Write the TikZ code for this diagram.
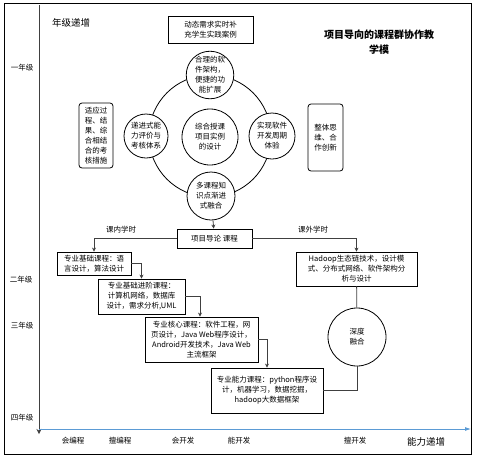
\documentclass[tikz,border=0pt]{standalone}
\usepackage{fontspec}
\setmainfont{Noto Sans CJK SC}
\usepackage{xcolor}
\usetikzlibrary{arrows.meta,positioning,calc}
\definecolor{AxBlue}{RGB}{91,155,213}
\definecolor{LinkGray}{RGB}{64,64,64}
\tikzset{
  txt/.style={font=\fontsize{7.5}{10}\selectfont,align=center,inner sep=1pt},
  cbox/.style={txt,draw=black,line width=0.8pt,fill=white},
  rbox/.style={cbox,rounded corners=3pt},
  bub/.style={txt,circle,draw=black,line width=0.8pt,fill=white,inner sep=0pt},
  link/.style={-{Stealth[length=4pt,width=4pt]},line width=0.8pt,LinkGray},
  plain/.style={line width=0.8pt,LinkGray},
  grade/.style={font=\fontsize{7.5}{9}\selectfont,inner sep=0pt},
  skill/.style={font=\fontsize{7.5}{9}\selectfont,inner sep=0pt},
}

\begin{document}
\begin{tikzpicture}[x=1pt,y=-1pt,>=Stealth]
  \useasboundingbox (0,0) rectangle (478,458);
  \draw[line width=0.8pt] (4,3) rectangle (471,454);

  % axes
  \coordinate (ytop) at (39,5);
  \coordinate (ybot) at (39,434);
  \coordinate (xl) at (39,429);
  \coordinate (xr) at (471,429);
  \draw[-{Stealth[length=5pt,width=5pt]},line width=0.8pt,black!75] (ytop) -- (ybot);
  \draw[-{Latex[length=6pt,width=4pt]},line width=0.8pt,AxBlue] (xl) -- (xr);
  \node[font=\fontsize{9.5}{11}\selectfont] (yname) at (71,23) {年级递增};
  \node[font=\fontsize{9.5}{11}\selectfont] (xname) at (426,442) {能力递增};

  % grades and skills
  \node[grade] (g1) at (22,68) {一年级};
  \node[grade] (g2) at (21,280) {二年级};
  \node[grade] (g3) at (22,326) {三年级};
  \node[grade] (g4) at (22,418) {四年级};
  \node[skill] (s1) at (73,441) {会编程};
  \node[skill] (s2) at (120,441) {擅编程};
  \node[skill] (s3) at (183,441) {会开发};
  \node[skill] (s4) at (239,441) {能开发};
  \node[skill] (s5) at (355,441) {擅开发};

  % title and top box
  \node[font=\fontsize{10}{15}\selectfont\bfseries,align=center] (title) at (379,42)
    {项目导向的课程群协作教\\学模};
  \node[cbox,minimum width=85pt,minimum height=27pt] (need) at (210.5,29.5)
    {动态需求实时补\\充学生实践案例};

  % ring of goals
  \draw[line width=0.8pt] (210,136) circle (61);
  \node[bub,minimum size=46pt] (ctop) at (210,75) {合理的软\\件架构，\\便捷的功\\能扩展};
  \node[bub,minimum size=44pt] (cleft) at (146,136) {递进式能\\力评价与\\考核体系};
  \node[bub,minimum size=46pt] (cright) at (272,136) {实现软件\\开发周期\\体验};
  \node[bub,minimum size=56pt] (cmid) at (210,137) {综合授课\\项目实例\\的设计};
  \node[bub,minimum size=48pt] (cbot) at (211,196) {多课程知\\识点渐进\\式融合};
  \node[rbox,minimum width=34pt,minimum height=65pt] (eval) at (96,135.5)
    {适应过\\程、结\\果、综\\合相结\\合的考\\核措施};
  \node[rbox,minimum width=35pt,minimum height=67pt] (team) at (325.5,137.5)
    {整体思\\维、合\\作创新};

  % course chain
  \node[cbox,minimum width=75pt,minimum height=19pt] (intro) at (214.5,238.5) {项目导论 课程};
  \node[cbox,minimum width=74pt,minimum height=23pt] (b1) at (94,263.5)
    {专业基础课程：语\\言设计，算法设计};
  \node[cbox,minimum width=87pt,minimum height=35pt] (b2) at (141.5,296.5)
    {专业基础进阶课程：\\计算机网络，数据库\\设计，需求分析,UML};
  \node[cbox,minimum width=113pt,minimum height=45pt] (b3) at (201.5,339.5)
    {专业核心课程：软件工程，网\\页设计，Java Web程序设计，\\Android开发技术，Java Web\\主流框架};
  \node[cbox,minimum width=112pt,minimum height=45pt] (b4) at (267,390.5)
    {专业能力课程：python程序设\\计，机器学习，数据挖掘，\\hadoop大数据框架};
  \node[cbox,minimum width=121pt,minimum height=34pt] (hdp) at (356.5,269)
    {Hadoop生态链技术，设计模\\式、分布式网络、软件架构分\\析与设计};
  \node[bub,minimum size=58pt] (deep) at (357,337) {深度\\融合};

  \draw[link] (cbot) -- (intro);
  \draw[link] (intro.west) -| (b1.north);
  \draw[link] (intro.east) -| (hdp.north);
  \node[txt] (inner) at (121,230) {课内学时};
  \node[txt] (outer) at (313,230) {课外学时};
  \draw[link] (b1.east) -| (b2.north);
  \draw[link] (b2.east) -| ($(b3.north)+(-1.5,0)$);
  \draw[link] (b3.east) -| (b4.north);
  \draw[plain] (hdp) -- (deep);
  \draw[plain] (deep.south) |- (b4.east);
\end{tikzpicture}
\end{document}
